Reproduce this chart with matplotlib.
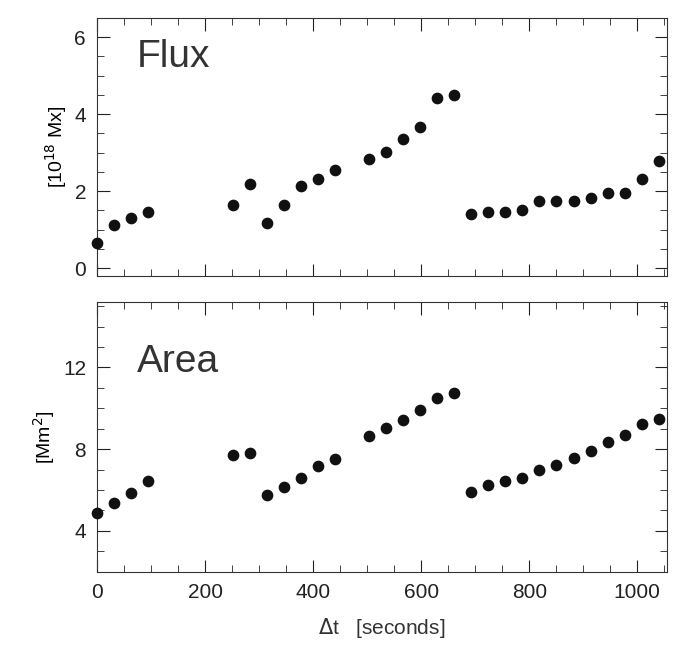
import matplotlib
matplotlib.use("Agg")
import matplotlib.pyplot as plt
import numpy as np
from matplotlib.ticker import MultipleLocator

plt.rcParams['font.family'] = ['Liberation Sans', 'DejaVu Sans']

dt = 31.5
idx = [0,1,2,3, 8,9,10,11,12,13,14, 16,17,18,19,20,21, 22,23,24,25,26,27,28,29,30,31,32,33]
t = [i*dt for i in idx]
flux = [0.65,1.11,1.29,1.45, 1.63,2.19,1.16,1.63,2.14,2.30,2.55, 2.84,3.02,3.35,3.66,4.41,4.49,
        1.39,1.45,1.45,1.50,1.73,1.73,1.75,1.83,1.96,1.96,2.32,2.79]
area = [4.88,5.37,5.85,6.44, 7.71,7.80,5.76,6.15,6.59,7.17,7.51, 8.63,9.02,9.41,9.90,10.49,10.73,
        5.90,6.24,6.44,6.59,6.98,7.22,7.56,7.90,8.34,8.68,9.22,9.46]

fig = plt.figure(figsize=(6.94,6.58), dpi=100)
ax1 = fig.add_axes([0.14,0.581,0.821,0.392])
ax2 = fig.add_axes([0.14,0.131,0.821,0.41])
for ax in (ax1, ax2):
    ax.set_xlim(0,1055)
    ax.xaxis.set_major_locator(MultipleLocator(200))
    ax.xaxis.set_minor_locator(MultipleLocator(50))
    ax.tick_params(which='both', direction='in', top=True, right=True, labelsize=15,
                   colors='#222222', pad=8)
    ax.tick_params(which='major', length=9)
    ax.tick_params(which='minor', length=5)
    for s in ax.spines.values():
        s.set_color('#333333')

ax1.scatter(t, flux, s=55, color='#111111', zorder=3, clip_on=False)
ax1.set_ylim(-0.2,6.5)
ax1.yaxis.set_major_locator(MultipleLocator(2))
ax1.yaxis.set_minor_locator(MultipleLocator(0.5))
ax1.set_xticklabels([])
ax1.set_ylabel(r'[10$^{18}$ Mx]', fontsize=14)
ax1.text(0.07,0.81,'Flux', transform=ax1.transAxes, fontsize=28, color='#333333')

ax2.scatter(t, area, s=55, color='#111111', zorder=3, clip_on=False)
ax2.set_ylim(2,15.2)
ax2.yaxis.set_major_locator(MultipleLocator(4))
ax2.yaxis.set_minor_locator(MultipleLocator(1))
ax2.set_ylabel(r'[Mm$^2$]', fontsize=14)
ax2.set_xlabel(r'$\Delta$t   [seconds]', fontsize=15, color='#333333', labelpad=10)
ax2.text(0.07,0.74,'Area', transform=ax2.transAxes, fontsize=28, color='#333333')

fig.savefig('out.png', dpi=100)
